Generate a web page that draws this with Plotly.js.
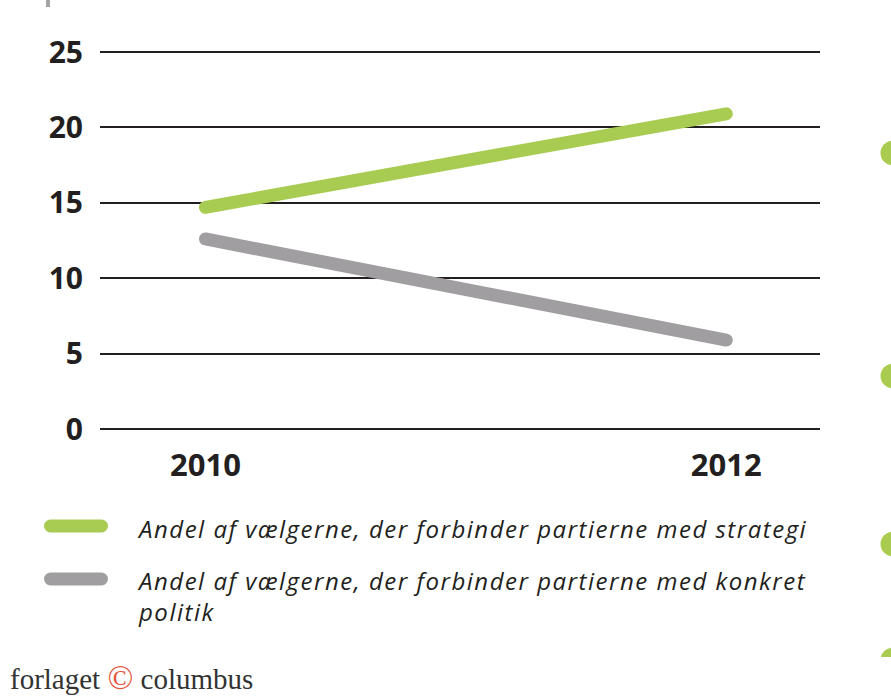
<!DOCTYPE html>
<html>
<head>
<meta charset="utf-8">
<script src="https://cdn.plot.ly/plotly-3.0.1.min.js"></script>
<style>
  html, body { margin: 0; padding: 0; background: #fff; }
  #plot { width: 891px; height: 696px; }
  /* round ends on the thick lines, like the original */
  .scatterlayer .js-line, .shapelayer path { stroke-linecap: round; }
  /* the legend text in the original is set a bit wide */
  .legend-row text { letter-spacing: 1.5px; }
</style>
</head>
<body>
<div id="plot"></div>
<script>
// chart values
//
const years = [2010, 2012];
const strategi = [14.7, 20.9];
const konkret = [12.6, 5.9];
const yTicks = [0, 5, 10, 15, 20, 25];
const seriesNames = [
  'Andel af vælgerne, der forbinder partierne med strategi',
  'Andel af vælgerne, der forbinder partierne med konkret<br>politik'
];

const GREEN = '#a8cc52';
const GREY = '#a09ea1';
const INK = '#231f20';

// page size and plot box, in pixels
//
const W = 891, H = 696;
const M = { l: 100, r: 71, t: 50, b: 264 };

// helpers to place decorations in paper coords from pixel positions
//
const px = (x) => (x - M.l) / (W - M.l - M.r);
const py = (y) => (H - M.b - y) / (H - M.t - M.b);

const traces = [
  {
    x: years, y: strategi, name: seriesNames[0],
    mode: 'lines', type: 'scatter',
    line: { color: GREEN, width: 13 },
    hoverinfo: 'none', showlegend: false
  },
  {
    x: years, y: konkret, name: seriesNames[1],
    mode: 'lines', type: 'scatter',
    line: { color: GREY, width: 13 },
    hoverinfo: 'none', showlegend: false
  }
];

// legend rows drawn by hand so the swatch size matches
//
const legendRows = [
  { color: GREEN, y: 526, textY: 528 },
  { color: GREY, y: 579, textY: 595.5 }
];

const shapes = [];
const annotations = [];

legendRows.forEach((row, i) => {
  shapes.push({
    type: 'line', xref: 'paper', yref: 'paper',
    x0: px(50.5), x1: px(101.5), y0: py(row.y), y1: py(row.y),
    line: { color: row.color, width: 13 }
  });
  annotations.push({
    xref: 'paper', yref: 'paper', x: px(135), y: py(row.textY),
    xanchor: 'left', yanchor: 'middle', align: 'left',
    showarrow: false, text: '<i>' + seriesNames[i] + '</i>',
    font: { family: 'Open Sans', size: 24, color: INK }
  });
});

// small grey mark at the top left and the green dots cut by the right edge
//
shapes.push({
  type: 'rect', xref: 'paper', yref: 'paper',
  x0: px(46), x1: px(50), y0: py(0), y1: py(7),
  fillcolor: '#a3a3a3', line: { width: 0 }
});
[153, 376, 544, 660].forEach((cy) => {
  shapes.push({
    type: 'circle', xref: 'paper', yref: 'paper',
    x0: px(880.5), x1: px(905.5), y0: py(cy - 12.5), y1: py(cy + 12.5),
    fillcolor: '#a9cb4f', line: { width: 0 }
  });
});
shapes.push({
  type: 'rect', xref: 'paper', yref: 'paper',
  x0: px(860), x1: px(900), y0: py(657), y1: py(700),
  fillcolor: '#ffffff', line: { width: 0 }
});

// publisher line at the bottom
//
annotations.push({
  xref: 'paper', yref: 'paper', x: px(8), y: py(678),
  xanchor: 'left', yanchor: 'middle', showarrow: false,
  text: 'forlaget <span style="color:#e5573f;font-size:34px">©</span> columbus',
  font: { family: 'Liberation Serif', size: 29, color: '#333333' }
});

const layout = {
  width: W,
  height: H,
  margin: M,
  paper_bgcolor: '#ffffff',
  plot_bgcolor: '#ffffff',
  showlegend: false,
  xaxis: {
    range: [2009.595, 2012.36],
    tickvals: years,
    ticktext: years.map(String),
    ticks: '',
    showgrid: false,
    zeroline: false,
    showline: false,
    ticklabelstandoff: 12,
    tickfont: { family: 'Open Sans', size: 31, color: INK, weight: 'bold' }
  },
  yaxis: {
    range: [-0.199, 25.133],
    tickvals: yTicks,
    ticks: '',
    showgrid: true,
    gridcolor: INK,
    gridwidth: 2,
    zeroline: false,
    showline: false,
    ticklabelstandoff: 16,
    tickfont: { family: 'Open Sans', size: 30, color: INK, weight: 'bold' }
  },
  shapes: shapes,
  annotations: annotations
};

Plotly.newPlot('plot', traces, layout, { displayModeBar: false, staticPlot: true }).then(() => {
  // tag the legend texts so the letter spacing rule reaches them
  //
  document.querySelectorAll('.annotation').forEach((g, i) => {
    if (i < annotations.length - 1) g.classList.add('legend-row');
  });
  Plotly.relayout('plot', {});
});
</script>
</body>
</html>
